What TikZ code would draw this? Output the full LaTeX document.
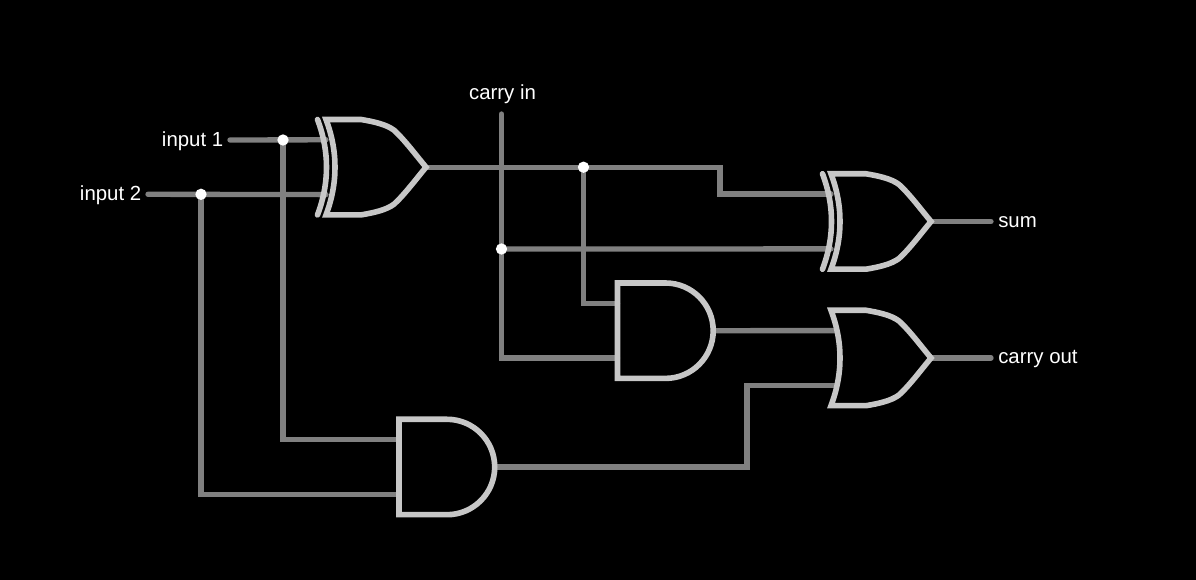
\documentclass[tikz,border=0pt]{standalone}
\usepackage{fontspec}
\usetikzlibrary{backgrounds}
\setmainfont{Liberation Sans}
\definecolor{wiregray}{gray}{0.5}
\definecolor{gategray}{gray}{0.78}
\tikzset{
  wire/.style={draw=wiregray, line width=4pt, line cap=round},
  gateline/.style={draw=gategray, line width=4.2pt},
  dot/.style={circle, fill=white, minimum size=8.5pt, inner sep=0pt},
  label/.style={text=white, font=\fontsize{15.3}{18}\selectfont, inner sep=0pt},
  orgate/.pic={
    \draw[gateline] (0,-47.7) -- (35,-47.7) .. controls (47,-45.7) and (60,-43) .. (68,-37)
      .. controls (78,-28) and (90,-12) .. (100,0)
      .. controls (90,12) and (78,28) .. (68,37)
      .. controls (60,43) and (47,45.7) .. (35,47.7) -- (0,47.7)
      .. controls (12,16) and (12,-16) .. (0,-47.7) -- cycle;
    \coordinate (-in1) at (4,-27.4);
    \coordinate (-in2) at (4,27.4);
    \coordinate (-out) at (100,0);
  },
  xorgate/.pic={
    \pic (-or) at (0,0) {orgate};
    \draw[gateline, line cap=round] (-8.5,-47.7) .. controls (3.5,-16) and (3.5,16) .. (-8.5,47.7);
    \coordinate (-in1) at (0,-27.4);
    \coordinate (-in2) at (0,27.4);
    \coordinate (-out) at (100,0);
  },
  andgate/.pic={
    \draw[gateline] (0,-47.7) -- (48,-47.7) arc[start angle=-90, end angle=90, radius=47.7]
      -- (0,47.7) -- cycle;
    \coordinate (-in1) at (0,-27.4);
    \coordinate (-in2) at (0,27.4);
    \coordinate (-out) at (95.7,0);
  },
}
\begin{document}
\begin{tikzpicture}[x=0.75pt, y=-0.75pt]
  % Background
  \begin{scope}[on background layer]
    \fill[black] (0,0) rectangle (1196,580);
  \end{scope}
  \useasboundingbox (0,0) rectangle (1196,580);

  % Free ends of the wires
  \coordinate (in1) at (230,140);
  \coordinate (in2) at (148,194.3);
  \coordinate (cin) at (501.5,114);
  \coordinate (sum) at (991,221.5);
  \coordinate (cout) at (991,358);

  % Draw the gates
  \pic (xor1) at (326,167.2) {xorgate};
  \pic (xor2) at (831,221.5) {xorgate};
  \pic (and1) at (617.5,330.7) {andgate};
  \pic (and2) at (399,467) {andgate};
  \pic (or1) at (831,358) {orgate};

  % Junctions
  \node[dot] (j1) at (283,140) {};
  \node[dot] (j2) at (201,194.3) {};
  \node[dot] (j3) at (583.5,167.2) {};
  \node[dot] (j4) at (501.5,249) {};

  % Draw the wires under the gates
  \begin{scope}[on background layer]
    \draw[wire] (in1) -- (xor1-in1);
    \draw[wire] (in2) -- (xor1-in2);
    \draw[wire] (j1.center) |- (and2-in1);
    \draw[wire] (j2.center) |- (and2-in2);
    \draw[wire] (xor1-out) -- (720,167.2) |- (xor2-in1);
    \draw[wire] (cin) |- (and1-in2);
    \draw[wire] (j4.center) -- (xor2-in2);
    \draw[wire] (j3.center) |- (and1-in1);
    \draw[wire] (and1-out) -- (or1-in1);
    \draw[wire] (and2-out) -- (747,467) |- (or1-in2);
    \draw[wire] (xor2-out) -- (sum);
    \draw[wire] (or1-out) -- (cout);
  \end{scope}

  % Labels
  \node[label, anchor=east] (input1) at (223.5,141.5) {input 1};
  \node[label, anchor=east] (input2) at (141.5,195.5) {input 2};
  \node[label] (carryin) at (502.5,94) {carry in};
  \node[label, anchor=west] (sumlabel) at (998,222.5) {sum};
  \node[label, anchor=west] (carryout) at (998,359.5) {carry out};
\end{tikzpicture}
\end{document}
